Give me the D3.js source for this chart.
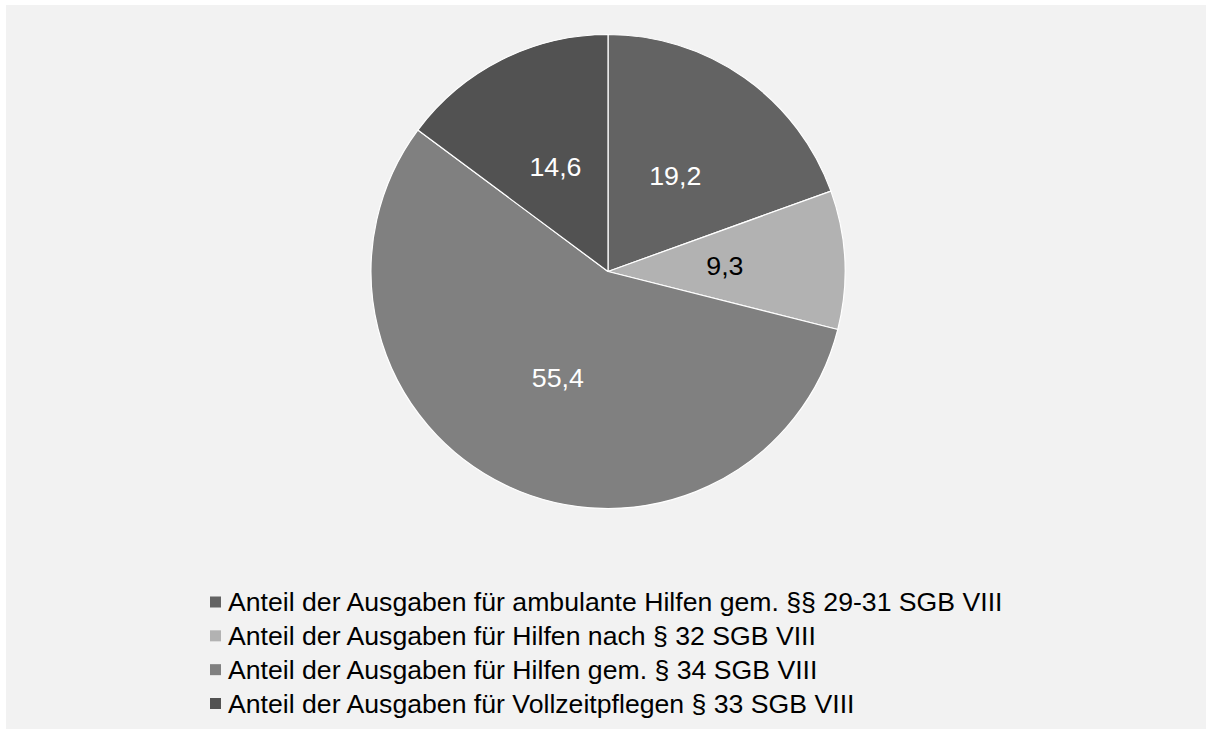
<!DOCTYPE html>
<html>
<head>
<meta charset="utf-8">
<script src="https://cdn.jsdelivr.net/npm/d3@7"></script>
<style>
  html, body { margin: 0; padding: 0; background: #ffffff; }
  svg { display: block; font-family: "Liberation Sans", Arial, sans-serif; }
</style>
</head>
<body>
<svg id="chart"></svg>
<script>
// Daten
const categories = [
  "Anteil der Ausgaben für ambulante Hilfen gem. §§ 29-31 SGB VIII",
  "Anteil der Ausgaben für Hilfen nach § 32 SGB VIII",
  "Anteil der Ausgaben für Hilfen gem. § 34 SGB VIII",
  "Anteil der Ausgaben für Vollzeitpflegen § 33 SGB VIII"
];
const values = [19.2, 9.3, 55.4, 14.6];
const valueLabels = ["19,2", "9,3", "55,4", "14,6"];

const width = 1206, height = 729;
const cx = 608, cy = 271.5, radius = 237;

const color = d3.scaleOrdinal()
  .domain(categories)
  .range(["#636363", "#b2b2b2", "#808080", "#525252"]);
const labelColor = d3.scaleOrdinal()
  .domain(categories)
  .range(["#ffffff", "#000000", "#ffffff", "#ffffff"]);

const svg = d3.select("#chart")
  .attr("width", width)
  .attr("height", height);

// Hintergrund
svg.append("rect")
  .attr("x", 6).attr("y", 5)
  .attr("width", width - 6).attr("height", height - 5)
  .attr("fill", "#f2f2f2");

const data = categories.map((c, i) => ({ name: c, value: values[i], label: valueLabels[i] }));

const pie = d3.pie().sort(null).value(d => d.value);
const arc = d3.arc().innerRadius(0).outerRadius(radius);
const labelArc = d3.arc().innerRadius(117).outerRadius(117);

const g = svg.append("g").attr("transform", `translate(${cx},${cy})`);
const arcs = pie(data);

g.selectAll("path")
  .data(arcs)
  .join("path")
  .attr("d", arc)
  .attr("fill", d => color(d.data.name))
  .attr("stroke", "#ffffff")
  .attr("stroke-width", 1.2)
  .attr("stroke-linejoin", "round");

g.selectAll("text")
  .data(arcs)
  .join("text")
  .attr("transform", d => `translate(${labelArc.centroid(d)}) scale(1.03,1)`)
  .attr("text-anchor", "middle")
  .attr("dy", "0.36em")
  .attr("font-size", 26)
  .attr("fill", d => labelColor(d.data.name))
  .text(d => d.data.label);

// Legende
const legendY = d3.scalePoint().domain(categories).range([602, 703.5]);
const legend = svg.append("g");
const rows = legend.selectAll("g")
  .data(categories)
  .join("g")
  .attr("transform", d => `translate(210,${legendY(d)})`);

rows.append("rect")
  .attr("x", 0).attr("y", -5.5)
  .attr("width", 11).attr("height", 11)
  .attr("fill", d => color(d));

rows.append("text")
  .attr("transform", "translate(18,0) scale(1.066,1)")
  .attr("dy", "0.36em")
  .attr("font-size", 25)
  .attr("fill", "#000000")
  .text(d => d);
</script>
</body>
</html>
